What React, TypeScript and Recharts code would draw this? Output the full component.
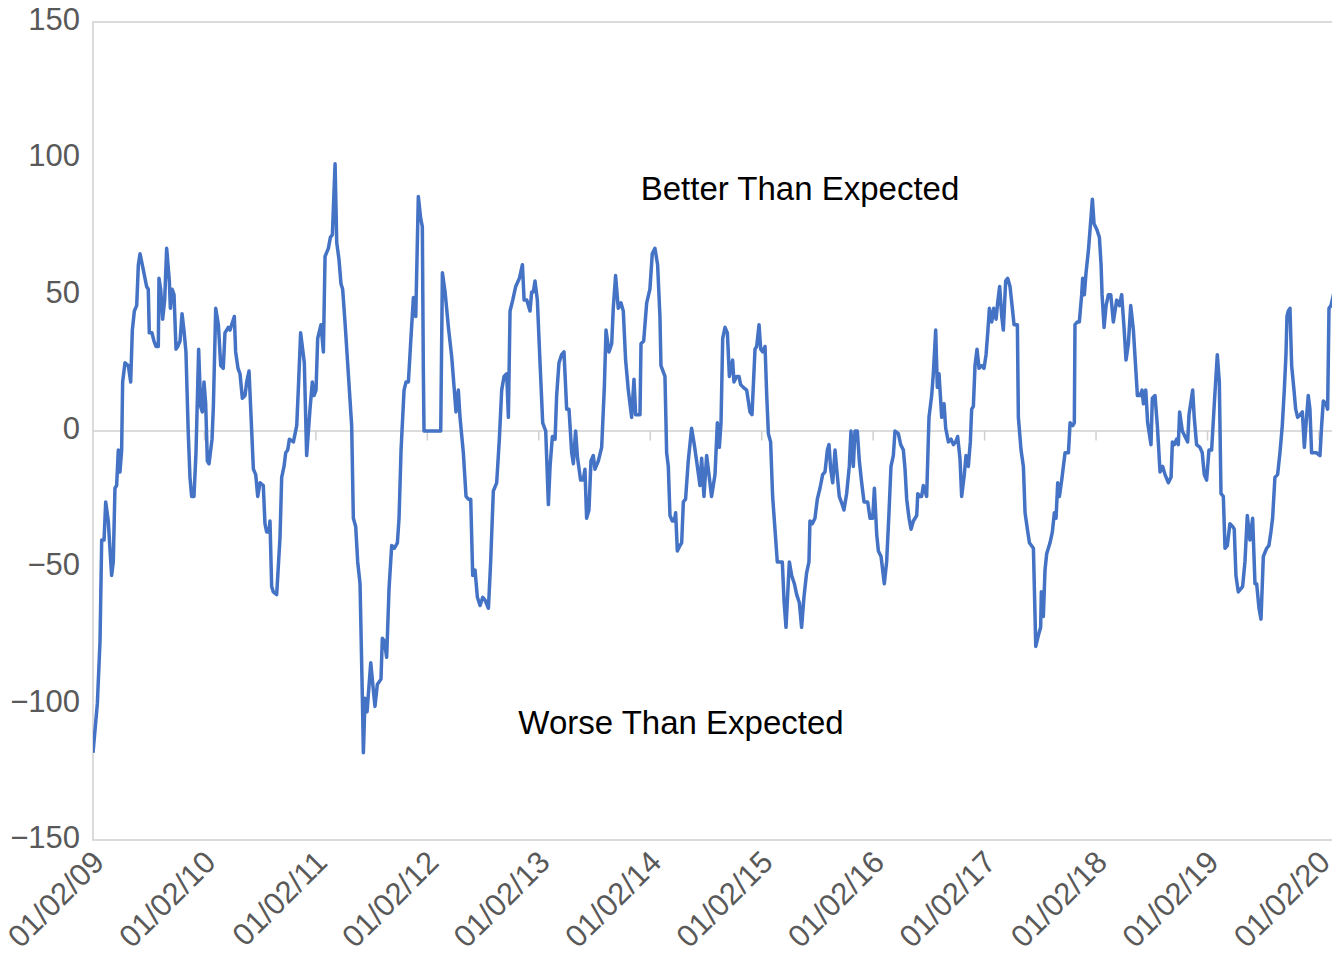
import { LineChart, Line, XAxis, YAxis, ReferenceLine, ReferenceArea, ReferenceDot } from 'recharts';

// weekly-ish readings, [decimal year, index value]
const points2009: [number, number][] = [
  [2009.0, -118], [2009.039, -100], [2009.063, -77], [2009.078, -40], [2009.099, -40], [2009.114, -26],
  [2009.137, -33], [2009.167, -53], [2009.182, -48], [2009.197, -21], [2009.212, -20], [2009.227, -7],
  [2009.242, -15], [2009.257, -7], [2009.266, 18], [2009.287, 25], [2009.317, 24], [2009.338, 18],
  [2009.353, 37], [2009.371, 44], [2009.392, 46], [2009.407, 61], [2009.422, 65], [2009.452, 59],
  [2009.481, 53], [2009.496, 52], [2009.505, 36], [2009.529, 36], [2009.547, 33], [2009.565, 31],
  [2009.586, 31], [2009.592, 56], [2009.607, 52], [2009.625, 41], [2009.643, 48], [2009.661, 67],
  [2009.685, 55], [2009.694, 45], [2009.709, 52], [2009.727, 50], [2009.745, 30], [2009.76, 31],
  [2009.781, 33], [2009.799, 43], [2009.816, 37], [2009.834, 29], [2009.855, -1], [2009.87, -17],
  [2009.885, -24], [2009.906, -24], [2009.924, -8], [2009.948, 30], [2009.966, 9], [2009.981, 7],
  [2009.996, 18],
];

const points2010: [number, number][] = [
  [2010.011, 10], [2010.026, -11], [2010.041, -12], [2010.068, -3], [2010.08, 9], [2010.101, 45],
  [2010.125, 39], [2010.146, 24], [2010.169, 23], [2010.184, 36], [2010.214, 38], [2010.229, 37],
  [2010.244, 39], [2010.268, 42], [2010.28, 29], [2010.301, 23], [2010.319, 21], [2010.34, 12],
  [2010.364, 13], [2010.379, 18], [2010.4, 22], [2010.439, -14], [2010.46, -16], [2010.478, -24],
  [2010.499, -19], [2010.528, -20], [2010.543, -34], [2010.558, -37], [2010.579, -37], [2010.588, -33],
  [2010.603, -57], [2010.618, -59], [2010.648, -60], [2010.678, -39], [2010.693, -17], [2010.714, -13],
  [2010.729, -8], [2010.747, -7], [2010.762, -3], [2010.798, -4], [2010.828, 2], [2010.843, 16],
  [2010.863, 36], [2010.896, 25], [2010.917, -9], [2010.947, 8], [2010.968, 18], [2010.983, 13],
];

const points2011: [number, number][] = [
  [2011.001, 15], [2011.016, 34], [2011.046, 39], [2011.067, 29], [2011.082, 64], [2011.112, 67],
  [2011.13, 71], [2011.148, 72], [2011.172, 98], [2011.187, 69], [2011.207, 63], [2011.225, 54],
  [2011.24, 52], [2011.261, 40], [2011.291, 21], [2011.321, 2], [2011.336, -32], [2011.357, -35],
  [2011.375, -48], [2011.396, -56], [2011.417, -98], [2011.426, -118], [2011.441, -98], [2011.459, -103],
  [2011.492, -85], [2011.513, -94], [2011.53, -101], [2011.551, -93], [2011.584, -91], [2011.596, -76],
  [2011.614, -77], [2011.635, -83], [2011.656, -58], [2011.68, -42], [2011.704, -43], [2011.731, -41],
  [2011.746, -32], [2011.764, -7], [2011.791, 15], [2011.809, 18], [2011.83, 18], [2011.854, 35],
  [2011.875, 49], [2011.896, 42], [2011.919, 86], [2011.94, 78], [2011.955, 75], [2011.964, 22],
  [2011.97, 0],
];

const points2012: [number, number][] = [
  [2012.12, 0], [2012.135, 58], [2012.159, 51], [2012.189, 38], [2012.219, 27], [2012.24, 16],
  [2012.257, 7], [2012.278, 15], [2012.293, 5], [2012.323, -8], [2012.347, -24], [2012.368, -25],
  [2012.389, -25], [2012.407, -53], [2012.428, -51], [2012.449, -61], [2012.473, -64], [2012.497, -61],
  [2012.518, -62], [2012.548, -65], [2012.568, -48], [2012.592, -22], [2012.622, -19], [2012.646, -3],
  [2012.667, 15], [2012.688, 20], [2012.712, 21], [2012.727, 5], [2012.742, 44], [2012.766, 48],
  [2012.793, 53], [2012.826, 56], [2012.853, 61], [2012.868, 48], [2012.892, 48], [2012.921, 44],
  [2012.936, 51], [2012.951, 51], [2012.966, 55], [2012.987, 48],
];

const points2013: [number, number][] = [
  [2013.011, 25], [2013.035, 3], [2013.062, 0], [2013.086, -27], [2013.101, -13], [2013.122, -2],
  [2013.146, -3], [2013.16, 13], [2013.181, 25], [2013.205, 28], [2013.226, 29], [2013.25, 8],
  [2013.271, 8], [2013.295, -8], [2013.31, -12], [2013.33, 0], [2013.348, -10], [2013.375, -18],
  [2013.399, -18], [2013.414, -14], [2013.429, -32], [2013.45, -29], [2013.468, -11], [2013.489, -9],
  [2013.504, -14], [2013.534, -11], [2013.564, -6], [2013.588, 16], [2013.603, 37], [2013.63, 29],
  [2013.654, 32], [2013.668, 45], [2013.689, 57], [2013.713, 45], [2013.737, 47], [2013.758, 44],
  [2013.779, 26], [2013.803, 15], [2013.833, 5], [2013.854, 19], [2013.869, 6], [2013.908, 6],
  [2013.917, 32], [2013.941, 33], [2013.968, 47], [2013.997, 52],
];

const points2014: [number, number][] = [
  [2014.018, 65], [2014.042, 67], [2014.066, 61], [2014.087, 42], [2014.096, 24], [2014.132, 20],
  [2014.147, -8], [2014.162, -13], [2014.177, -31], [2014.198, -33], [2014.216, -33], [2014.228, -30],
  [2014.243, -44], [2014.267, -42], [2014.282, -41], [2014.297, -26], [2014.317, -25], [2014.341, -11],
  [2014.356, -5], [2014.371, 1], [2014.395, -5], [2014.416, -11], [2014.446, -20], [2014.461, -10],
  [2014.482, -24], [2014.506, -9], [2014.527, -16], [2014.55, -24], [2014.581, -16], [2014.602, 3],
  [2014.62, -6], [2014.635, 3], [2014.65, 34], [2014.671, 38], [2014.692, 36], [2014.71, 20],
  [2014.724, 23], [2014.739, 26], [2014.751, 18], [2014.775, 20], [2014.796, 20], [2014.811, 17],
  [2014.835, 16], [2014.865, 15], [2014.895, 7], [2014.913, 6], [2014.94, 30], [2014.955, 31],
  [2014.976, 39], [2014.991, 30],
];

const points2015: [number, number][] = [
  [2015.009, 29], [2015.03, 31], [2015.045, 13], [2015.06, -1], [2015.08, -4], [2015.098, -24],
  [2015.119, -36], [2015.14, -48], [2015.164, -48], [2015.185, -48], [2015.2, -62], [2015.218, -72],
  [2015.248, -48], [2015.269, -53], [2015.293, -56], [2015.314, -60], [2015.338, -63], [2015.358, -72],
  [2015.379, -61], [2015.403, -52], [2015.424, -48], [2015.433, -33], [2015.454, -34], [2015.478, -32],
  [2015.499, -25], [2015.523, -21], [2015.547, -16], [2015.568, -15], [2015.589, -7], [2015.604, -5],
  [2015.619, -14], [2015.637, -19], [2015.658, -7], [2015.673, -14], [2015.696, -24], [2015.723, -27],
  [2015.738, -29], [2015.762, -23], [2015.786, -13], [2015.801, 0], [2015.822, -13], [2015.837, 0],
  [2015.858, 0], [2015.876, -11], [2015.897, -19], [2015.918, -26], [2015.951, -26], [2015.972, -32],
  [2015.996, -32],
];

const points2016: [number, number][] = [
  [2016.011, -21], [2016.032, -38], [2016.047, -44], [2016.071, -46], [2016.1, -56], [2016.121, -48],
  [2016.142, -30], [2016.16, -13], [2016.181, -9], [2016.196, 0], [2016.226, -1], [2016.247, -5],
  [2016.271, -7], [2016.286, -14], [2016.301, -25], [2016.322, -32], [2016.34, -36], [2016.361, -33],
  [2016.391, -31], [2016.4, -23], [2016.42, -24], [2016.435, -24], [2016.45, -20], [2016.48, -24],
  [2016.501, 5], [2016.525, 13], [2016.54, 21], [2016.561, 37], [2016.576, 16], [2016.591, 21],
  [2016.615, 5], [2016.636, 10], [2016.651, 1], [2016.675, -4], [2016.699, -3], [2016.72, -5],
  [2016.741, -4], [2016.758, -2], [2016.779, -10], [2016.794, -24], [2016.818, -16], [2016.833, -9],
  [2016.854, -13], [2016.872, -4], [2016.884, 8], [2016.899, 9], [2016.914, 24], [2016.932, 30],
  [2016.95, 23], [2016.974, 24], [2016.995, 23],
];

const points2017: [number, number][] = [
  [2017.013, 28], [2017.028, 36], [2017.043, 45], [2017.064, 40], [2017.082, 45], [2017.103, 41],
  [2017.117, 47], [2017.135, 53], [2017.154, 42], [2017.168, 37], [2017.189, 55], [2017.207, 56],
  [2017.228, 53], [2017.249, 45], [2017.264, 39], [2017.294, 39], [2017.303, 5], [2017.327, -7],
  [2017.348, -13], [2017.363, -30], [2017.384, -36], [2017.402, -41], [2017.438, -43], [2017.459, -79],
  [2017.482, -75], [2017.503, -72], [2017.509, -59], [2017.527, -68], [2017.542, -51], [2017.557, -45],
  [2017.587, -41], [2017.608, -37], [2017.626, -30], [2017.641, -32], [2017.656, -19], [2017.671, -24],
  [2017.692, -18], [2017.722, -8], [2017.752, -8], [2017.767, 3], [2017.791, 2], [2017.805, 3],
  [2017.811, 39], [2017.832, 40], [2017.85, 40], [2017.871, 50], [2017.88, 56], [2017.895, 50],
  [2017.91, 58], [2017.931, 66], [2017.952, 77], [2017.967, 85], [2017.982, 76],
];

const points2018: [number, number][] = [
  [2018.006, 74], [2018.03, 71], [2018.045, 61], [2018.054, 50], [2018.072, 38], [2018.09, 46],
  [2018.111, 50], [2018.132, 50], [2018.155, 40], [2018.185, 48], [2018.209, 46], [2018.23, 50],
  [2018.251, 38], [2018.269, 26], [2018.29, 32], [2018.311, 46], [2018.335, 37], [2018.353, 25],
  [2018.371, 13], [2018.395, 13], [2018.413, 15], [2018.425, 10], [2018.446, 15], [2018.463, 3],
  [2018.493, -5], [2018.505, 12], [2018.529, 13], [2018.55, 2], [2018.574, -15], [2018.598, -13],
  [2018.619, -16], [2018.649, -19], [2018.673, -17], [2018.685, -4], [2018.703, -5], [2018.723, -3],
  [2018.738, -5], [2018.75, 7], [2018.774, 0], [2018.798, -2], [2018.822, -4], [2018.834, 6],
  [2018.867, 15], [2018.881, 5], [2018.902, -5], [2018.932, -6], [2018.953, -8], [2018.971, -16],
  [2018.992, -18],
];

const points2019: [number, number][] = [
  [2019.013, -7], [2019.037, -7], [2019.061, 10], [2019.088, 28], [2019.106, 18], [2019.121, -23],
  [2019.142, -24], [2019.157, -43], [2019.178, -42], [2019.201, -34], [2019.225, -35], [2019.24, -36],
  [2019.255, -53], [2019.276, -59], [2019.297, -58], [2019.315, -57], [2019.336, -48], [2019.357, -31],
  [2019.381, -40], [2019.405, -32], [2019.426, -56], [2019.441, -56], [2019.462, -65], [2019.48, -69],
  [2019.501, -46], [2019.531, -43], [2019.551, -42], [2019.569, -37], [2019.584, -32], [2019.605, -17],
  [2019.629, -16], [2019.65, -8], [2019.671, 2], [2019.689, 15], [2019.704, 28], [2019.713, 42],
  [2019.725, 44], [2019.74, 45], [2019.755, 24], [2019.776, 15], [2019.791, 8], [2019.809, 5],
  [2019.833, 6], [2019.851, 7], [2019.869, -6], [2019.883, 2], [2019.904, 13], [2019.919, 8],
  [2019.934, -8], [2019.955, -8], [2019.979, -8],
];

const points2020: [number, number][] = [
  [2020.009, -9], [2020.024, 2], [2020.039, 11], [2020.063, 10], [2020.078, 8], [2020.09, 45],
  [2020.108, 46], [2020.135, 51],
];

const yearTicks = [2009, 2010, 2011, 2012, 2013, 2014, 2015, 2016, 2017, 2018, 2019, 2020];
const valueTicks = [-150, -100, -50, 0, 50, 100, 150];
const xEnd = 2020.135;

const data = [
  ...points2009, ...points2010, ...points2011, ...points2012, ...points2013, ...points2014,
  ...points2015, ...points2016, ...points2017, ...points2018, ...points2019, ...points2020,
].map(([date, value]) => ({ date, value }));

const FONT = '"Liberation Sans", Arial, Helvetica, sans-serif';
const LABEL_GREY = '#595959';
const RULE_GREY = '#d0d0d0';

function XTick({ x, y, payload }: any) {
  const px = x + 13;
  const py = y + 24;
  const yy = String(payload.value).slice(2);
  return (
    <text x={px} y={py} transform={`rotate(-45 ${px} ${py})`} textAnchor="end" fontSize={31} fill={LABEL_GREY}>
      {`01/02/${yy}`}
    </text>
  );
}

function YTick({ x, y, payload }: any) {
  const v = payload.value as number;
  const txt = v < 0 ? `\u2212${Math.abs(v)}` : `${v}`;
  return (
    <text x={x - 13} y={y - 3} dy="0.355em" textAnchor="end" fontSize={31} fill={LABEL_GREY}>
      {txt}
    </text>
  );
}

export default function App() {
  // pull the chart over the body margin so nothing is clipped at the page edges
  return (
    <div style={{ width: 1340, height: 961, margin: '-8px 0 0 -8px', fontFamily: FONT }}>
      <LineChart width={1340} height={961} data={data} margin={{ top: 22, right: 6, left: 8, bottom: 21 }}>
        <XAxis
          type="number"
          dataKey="date"
          domain={[2009, xEnd]}
          ticks={yearTicks}
          interval={0}
          allowDataOverflow
          axisLine={false}
          tickLine={false}
          tickSize={0}
          tickMargin={0}
          height={100}
          tick={<XTick />}
        />
        <YAxis
          type="number"
          domain={[-150, 150]}
          ticks={valueTicks}
          interval={0}
          axisLine={false}
          tickLine={false}
          tickSize={0}
          tickMargin={0}
          width={85}
          tick={<YTick />}
        />
        <ReferenceArea x1={2009} x2={xEnd} y1={-150} y2={150} fill="none" stroke={RULE_GREY} strokeWidth={1.5} />
        <ReferenceLine y={0} stroke={RULE_GREY} strokeWidth={1.5} />
        {yearTicks.slice(1).map((yr) => (
          <ReferenceLine
            key={yr}
            segment={[{ x: yr, y: 0 }, { x: yr, y: -3.5 }]}
            stroke={RULE_GREY}
            strokeWidth={1.5}
          />
        ))}
        <Line
          type="linear"
          dataKey="value"
          stroke="#4472C4"
          strokeWidth={3.5}
          strokeLinejoin="round"
          dot={false}
          activeDot={false}
          isAnimationActive={false}
        />
        <ReferenceDot
          x={2015.344}
          y={89}
          r={0}
          fill="none"
          stroke="none"
          label={{ value: 'Better Than Expected', position: 'center', fill: '#000', fontSize: 33 }}
        />
        <ReferenceDot
          x={2014.276}
          y={-107}
          r={0}
          fill="none"
          stroke="none"
          label={{ value: 'Worse Than Expected', position: 'center', fill: '#000', fontSize: 33 }}
        />
      </LineChart>
    </div>
  );
}
